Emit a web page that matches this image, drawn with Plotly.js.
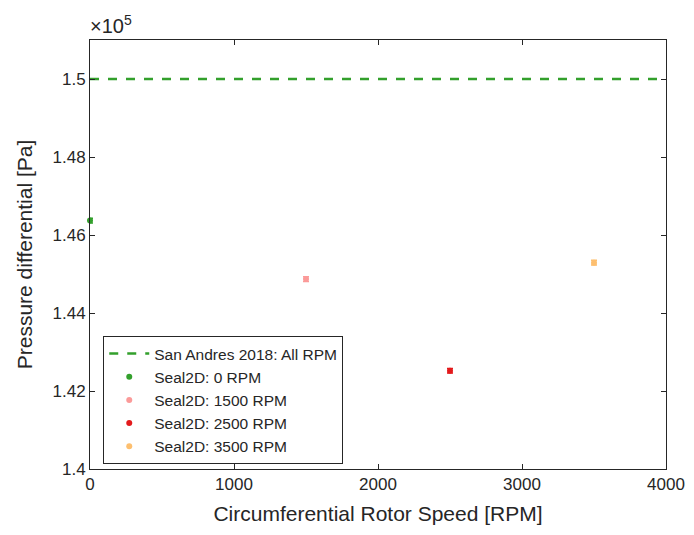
<!DOCTYPE html>
<html><head><meta charset="utf-8">
<script src="https://cdn.plot.ly/plotly-3.0.1.min.js"></script>
<style>body{margin:0;background:#fff}#chart{width:694px;height:535px}</style>
</head><body><div id="chart"></div>
<script>
const seriesNames = ["Seal2D: 0 RPM","Seal2D: 1500 RPM","Seal2D: 2500 RPM","Seal2D: 3500 RPM"];
const speeds = [0, 1500, 2500, 3500];
const pressures = [146370, 144870, 142520, 145290];
const errors = [60, 60, 60, 60];
const colors = ["#33a02c","#fb9a99","#e31a1c","#fdbf6f"];
const refName = "San Andres 2018: All RPM";
const refX = [0, 4000];
const refY = [150000, 150000];
const xTicks = [0,1000,2000,3000,4000];
const yTickVals = [140000,142000,144000,146000,148000,150000];
const yTickText = ["1.4","1.42","1.44","1.46","1.48","1.5"];

const traces = [{
  x: refX, y: refY, mode:'lines', name: refName,
  line:{color:'#33a02c', dash:'dash', width:2.5}
}];
for (let i=0;i<speeds.length;i++){
  traces.push({
    x:[speeds[i]], y:[pressures[i]], mode:'markers', name:seriesNames[i],
    marker:{color:colors[i], size:6},
    error_y:{type:'data', array:[errors[i]], color:colors[i], thickness:1.5, width:3},
    cliponaxis:false
  });
}
const font = {family:'"Liberation Sans", Arial, sans-serif', color:'#262626'};
const layout = {
  width:694, height:535,
  margin:{l:90, r:28, t:40, b:66},
  paper_bgcolor:'#fff', plot_bgcolor:'#fff',
  font: Object.assign({size:16}, font),
  showlegend:true,
  xaxis:{range:[0,4000], tickvals:xTicks, ticks:'inside', ticklen:5, tickcolor:'#262626',
    showline:true, linecolor:'#262626', linewidth:1, mirror:'ticks', showgrid:false, zeroline:false,
    tickfont:{size:17},
    title:{text:'Circumferential Rotor Speed [RPM]', font:{size:21}, standoff:12}},
  yaxis:{range:[140000,151000], tickvals:yTickVals, ticktext:yTickText, ticks:'inside', ticklen:5,
    tickcolor:'#262626', showline:true, linecolor:'#262626', linewidth:1, mirror:'ticks',
    showgrid:false, zeroline:false, tickfont:{size:17},
    title:{text:'Pressure differential [Pa]', font:{size:21}, standoff:14}},
  legend:{x:0.023, y:0.31, xanchor:'left', yanchor:'top', bordercolor:'#262626', borderwidth:1,
    bgcolor:'#fff', font:{size:15.5}, tracegroupgap:0, itemwidth:40},
  annotations:[{xref:'paper', yref:'paper', x:0, y:1, xanchor:'left', yanchor:'bottom', showarrow:false,
    text:'×10<sup>5</sup>', font:{size:20}, xshift:-2, yshift:1}]
};
Plotly.newPlot('chart', traces, layout, {displayModeBar:false, staticPlot:true});
</script></body></html>
